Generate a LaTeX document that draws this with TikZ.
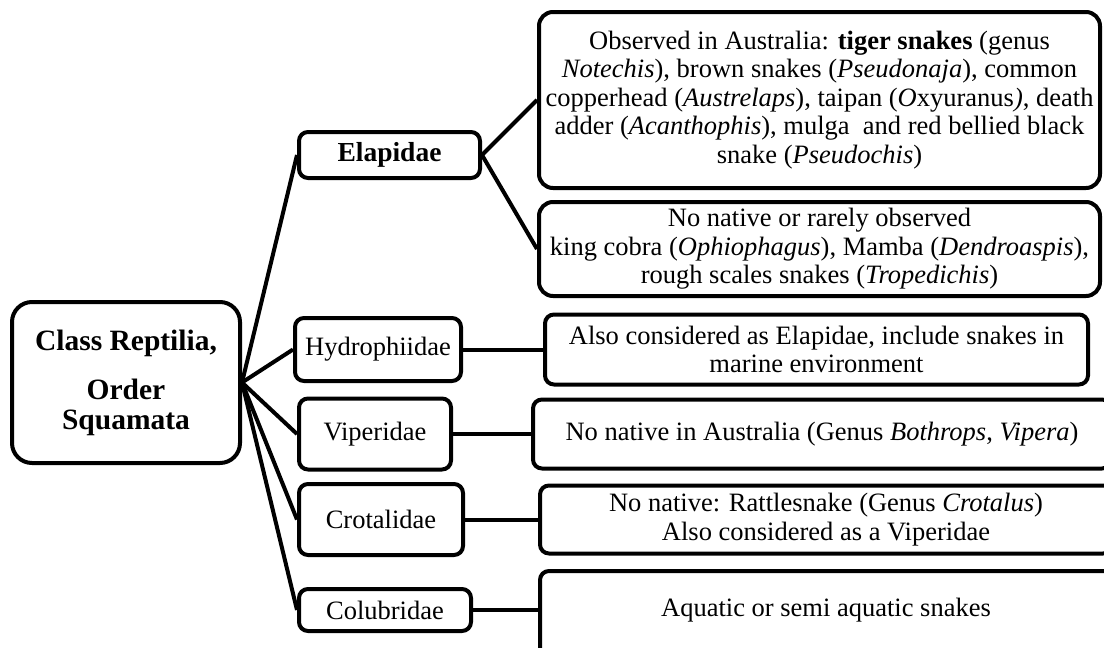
\documentclass[tikz,border=0pt]{standalone}
\usepackage{fontspec}
\setmainfont{Liberation Serif}
\tikzset{
  box/.style={draw, line width=4pt, rounded corners=9pt, align=center, inner sep=0pt,
    font=\fontsize{26.5}{28.5}\selectfont},
  bigbox/.style={box, rounded corners=14pt},
  rootbox/.style={box, rounded corners=20pt, font=\fontsize{29.5}{30}\selectfont\bfseries},
  link/.style={line width=4pt},
}
\begin{document}
\begin{tikzpicture}[x=1pt,y=-1pt]
\useasboundingbox (0,0) rectangle (1104,648);
\clip (0,0) rectangle (1104,648);
\fill[white] (0,0) rectangle (1104,648);
% root
\node[rootbox, minimum width=228pt, minimum height=161pt] (root) at (126,382.5)
  {Class Reptilia,\\[19pt]Order\\Squamata};
% families
\node[box, minimum width=181pt, minimum height=46pt, font=\fontsize{27.5}{30}\selectfont\bfseries] (ela) at (389.5,155) {Elapidae};
\node[box, minimum width=166pt, minimum height=63pt] (hyd) at (378,349.5) {Hydrophiidae};
\node[box, minimum width=152pt, minimum height=71pt] (vip) at (375,434) {Viperidae};
\node[box, minimum width=164pt, minimum height=71pt] (cro) at (381,519.5) {Crotalidae};
\node[box, minimum width=172pt, minimum height=42pt] (col) at (385,610) {Colubridae};
% descriptions
\node[bigbox, minimum width=561pt, minimum height=176pt] (d1) at (819.5,100)
  {Observed in Australia: \textbf{tiger snakes} (genus\\
   \textit{Notechis}), brown snakes (\textit{Pseudonaja}), common\\
   copperhead (\textit{Austrelaps}), taipan (\textit{O}xyuranus\textit{)}, death\\
   adder (\textit{Acanthophis}), mulga\ \ and red bellied black\\
   snake (\textit{Pseudochis})};
\node[bigbox, minimum width=561pt, minimum height=94pt] (d2) at (819.5,249)
  {No native or rarely observed\\
   king cobra (\textit{Ophiophagus}), Mamba (\textit{Dendroaspis}),\\
   rough scales snakes (\textit{Tropedichis})};
\node[box, minimum width=543pt, minimum height=70pt] (d3) at (816.5,349.5)
  {Also considered as Elapidae, include snakes in\\ marine environment};
\node[box, minimum width=578pt, minimum height=69pt] (d4) at (822,434)
  {No native in Australia (Genus \textit{Bothrops}, \textit{Vipera})};
\node[box, minimum width=572pt, minimum height=68pt] (d5) at (826,519.5)
  {No native: Rattlesnake (Genus \textit{Crotalus})\\ Also considered as a Viperidae};
\node[box, minimum width=572pt, minimum height=88pt, anchor=north] (d6box) at (826,569) {};
\node[font=\fontsize{26.5}{28.5}\selectfont] (d6) at (826,610) {Aquatic or semi aquatic snakes};
% connectors
\draw[link] (root.east) -- (ela.west);
\draw[link] (root.east) -- (hyd.west);
\draw[link] (root.east) -- (vip.west);
\draw[link] (root.east) -- (cro.west);
\draw[link] (root.east) -- (col.west);
\draw[link] (ela.east) -- (d1.west);
\draw[link] (ela.east) -- (d2.west);
\draw[link] (hyd.east) -- (d3.west);
\draw[link] (vip.east) -- (d4.west);
\draw[link] (cro.east) -- (d5.west);
\draw[link] (col.east) -- (d6box.west |- col.east);
\end{tikzpicture}
\end{document}
